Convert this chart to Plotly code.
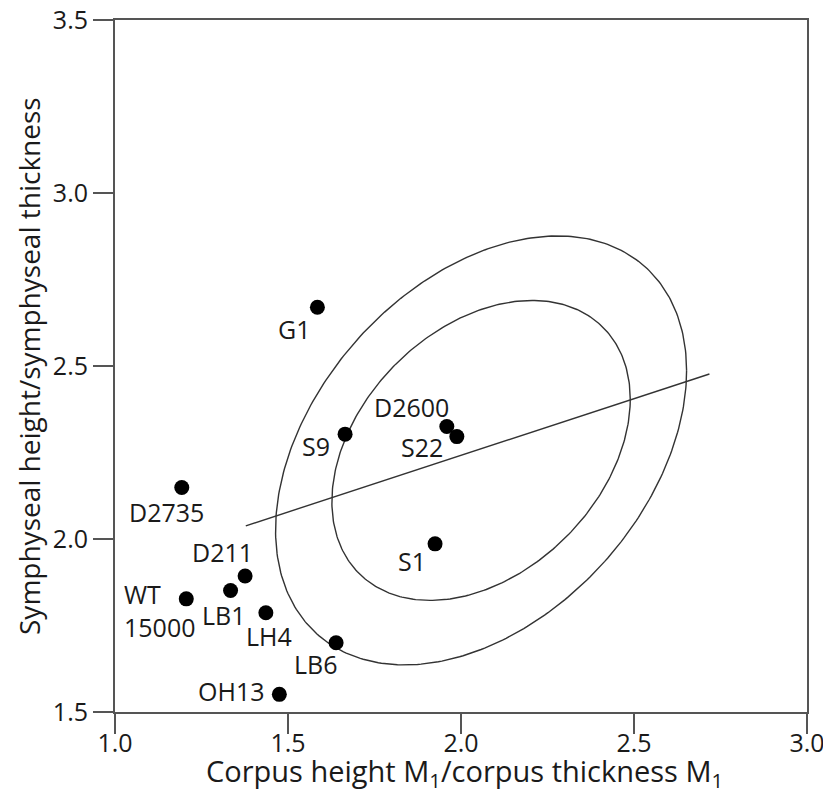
import numpy as np
import plotly.graph_objects as go

# ---- data ----
specimens = ["G1", "D2600", "S22", "S9", "S1", "LB6", "D2735", "D211",
             "WT 15000", "LB1", "LH4", "OH13"]
corpus_ratio = [1.585, 1.959, 1.988, 1.665, 1.925, 1.639, 1.193, 1.376,
                1.206, 1.334, 1.436, 1.475]
symphysis_ratio = [2.670, 2.325, 2.296, 2.303, 1.986, 1.700, 2.149, 1.893,
                   1.827, 1.851, 1.787, 1.551]

# regression line end points
line_x = [1.378, 2.718]
line_y = [2.038, 2.477]

# ellipses: centre and covariance-like shape matrix (data units)
ellipse_center = [2.058, 2.256]
outer_shape = [[0.3528, 0.1370], [0.1370, 0.3843]]
inner_shape = [[0.1859, 0.0639], [0.0639, 0.1879]]

x_ticks = [1.0, 1.5, 2.0, 2.5, 3.0]
y_ticks = [1.5, 2.0, 2.5, 3.0, 3.5]

x_title = "Corpus height M<sub>1</sub>/corpus thickness M<sub>1</sub>"
y_title = "Symphyseal height/symphyseal thickness"

# label placement (pixel offsets of label centre from the point)
label_offsets = {
    "G1": (-23, 22), "D2600": (-35, -20), "S22": (-35, 10), "S9": (-29, 12),
    "S1": (-23, 17), "LB6": (-20, 21), "D2735": (-15, 25), "D211": (-23, -24),
    "WT 15000": (-27, 12), "LB1": (-7, 24), "LH4": (3, 23), "OH13": (-48, -3),
}

FONT = "Open Sans, sans-serif"
FS = 25
INK = "#1a1a1a"
AXC = "#555555"


def ellipse_xy(center, shape, n=361):
    t = np.linspace(0, 2 * np.pi, n)
    L = np.linalg.cholesky(np.array(shape))
    pts = L @ np.vstack([np.cos(t), np.sin(t)])
    return pts[0] + center[0], pts[1] + center[1]


fig = go.Figure()

for shp in (outer_shape, inner_shape):
    ex, ey = ellipse_xy(ellipse_center, shp)
    fig.add_trace(go.Scatter(x=ex, y=ey, mode="lines",
                             line=dict(color="#333333", width=1.4),
                             hoverinfo="skip", showlegend=False))

fig.add_trace(go.Scatter(x=line_x, y=line_y, mode="lines",
                         line=dict(color="#333333", width=1.4),
                         hoverinfo="skip", showlegend=False))

fig.add_trace(go.Scatter(x=corpus_ratio, y=symphysis_ratio, mode="markers",
                         marker=dict(size=15, color="black"),
                         text=specimens, showlegend=False))

for name, xv, yv in zip(specimens, corpus_ratio, symphysis_ratio):
    dx, dy = label_offsets[name]
    txt = name.replace(" ", "<br>")
    fig.add_annotation(x=xv, y=yv, text=txt, showarrow=False,
                       xshift=dx, yshift=-dy, align="left",
                       font=dict(family=FONT, size=FS, color=INK))

# axis titles
fig.add_annotation(xref="paper", yref="paper", x=0.5, y=0, text=x_title,
                   showarrow=False, xanchor="center", yanchor="middle",
                   xshift=3, yshift=-60,
                   font=dict(family=FONT, size=29, color=INK))
fig.add_annotation(xref="paper", yref="paper", x=0, y=0.5, text=y_title,
                   showarrow=False, xanchor="center", yanchor="middle",
                   textangle=-90, xshift=-86,
                   font=dict(family=FONT, size=28, color=INK))

axis_common = dict(showgrid=False, zeroline=False, showline=True,
                   linecolor=AXC, linewidth=2, mirror=True,
                   ticks="outside", ticklen=20, tickwidth=2, tickcolor=AXC,
                   automargin=False, ticklabeloverflow="allow",
                   tickfont=dict(family=FONT, size=FS, color=INK))

fig.update_xaxes(range=[1.0, 3.0], tickvals=x_ticks,
                 ticktext=[f"{v:.1f}" for v in x_ticks],
                 ticklabelstandoff=-12, **axis_common)
fig.update_yaxes(range=[1.5, 3.5], tickvals=y_ticks,
                 ticktext=[f"{v:.1f}" for v in y_ticks], **axis_common)

fig.update_layout(width=823, height=795,
                  margin=dict(l=115, r=16, t=20, b=83, autoexpand=False),
                  plot_bgcolor="white", paper_bgcolor="white")

fig.write_html("out.html", default_width="823px", default_height="795px",
               config={"displayModeBar": False},
               post_script="document.body.style.margin='0';"
                           "document.body.style.overflow='hidden';")
